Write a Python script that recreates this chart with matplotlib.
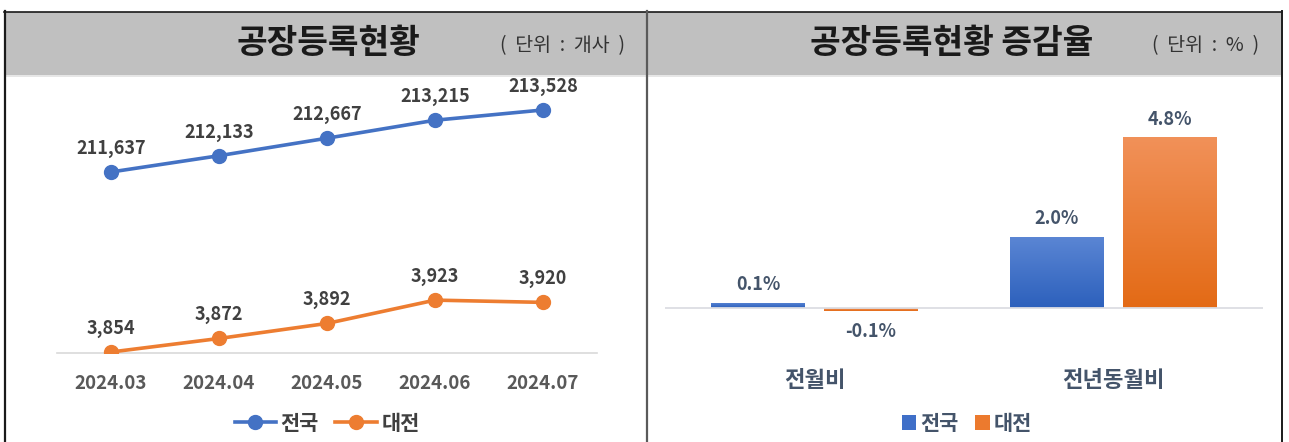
import numpy as np
import matplotlib
matplotlib.use('Agg')
import matplotlib.pyplot as plt
from matplotlib.lines import Line2D
from matplotlib.patches import Patch, Rectangle
from matplotlib.colors import LinearSegmentedColormap

plt.rcParams['font.family'] = ['Noto Sans CJK KR', 'DejaVu Sans']

# data
months = ['2024.03', '2024.04', '2024.05', '2024.06', '2024.07']
national = [211637, 212133, 212667, 213215, 213528]
daejeon = [3854, 3872, 3892, 3923, 3920]

rate_cats = ['전월비', '전년동월비']
rate_national = [0.147, 2.0]
rate_daejeon = [-0.076, 4.8]
series_names = ['전국', '대전']

BLUE = '#4472c4'
ORANGE = '#ed7d31'
W, H = 1289, 442


def box(x0, y0, x1, y1):
    # pixel box (y from top) -> figure fraction
    return [x0 / W, 1 - y1 / H, (x1 - x0) / W, (y1 - y0) / H]


fig = plt.figure(figsize=(W / 100, H / 100), dpi=100)

# frame, header bands and titles
bg = fig.add_axes([0, 0, 1, 1])
bg.set_xlim(0, W)
bg.set_ylim(H, 0)
bg.axis('off')
bg.add_patch(Rectangle((5, 12), 1276, 63, facecolor='#c0c0c0', edgecolor='none'))
bg.plot([5, 1281], [75.5, 75.5], color='#e2e2e2', lw=1.2)
bg.plot([4, 1282], [11.5, 11.5], color='#1a1a1a', lw=1.2)
bg.plot([4.5, 4.5], [11, H], color='#1a1a1a', lw=1.6)
bg.plot([646.5, 646.5], [11, H], color='#5a5a5a', lw=1.6)
bg.plot([1281.5, 1281.5], [11, H], color='#1a1a1a', lw=1.4)

bg.text(328, 44, '공장등록현황', ha='center', va='center', fontsize=24,
        fontweight='bold', color='#1a1a1a')
bg.text(562, 46, '(  단위  :  개사  )', ha='center', va='center', fontsize=14,
        color='#333333')
bg.text(952, 44, '공장등록현황 증감율', ha='center', va='center', fontsize=24,
        fontweight='bold', color='#1a1a1a')
bg.text(1206, 46, '(  단위  :  %  )', ha='center', va='center', fontsize=14,
        color='#333333')

# left: line chart with two scales
x = np.arange(len(months))
axL = fig.add_axes(box(57, 85, 597, 353))
axL.plot(x, daejeon, color=ORANGE, lw=2.6, marker='o', ms=10, zorder=3)
axL.set_ylim(3852.7, 4209)
axL.set_xlim(-0.5, len(months) - 0.5)
for xi, v in zip(x, daejeon):
    axL.annotate(f'{v:,}', (xi, v), xytext=(0, 17), textcoords='offset points',
                 ha='center', va='center', fontsize=13, fontweight='bold',
                 color='#404040')

axT = axL.twinx()
axT.plot(x, national, color=BLUE, lw=2.6, marker='o', ms=10, zorder=3)
axT.set_ylim(206119, 214289)
for xi, v in zip(x, national):
    axT.annotate(f'{v:,}', (xi, v), xytext=(0, 17), textcoords='offset points',
                 ha='center', va='center', fontsize=13, fontweight='bold',
                 color='#404040')

for a in (axL, axT):
    for s in ('top', 'left', 'right'):
        a.spines[s].set_visible(False)
    a.set_yticks([])
axT.spines['bottom'].set_visible(False)
axL.spines['bottom'].set_color('#d9d9d9')
axL.spines['bottom'].set_linewidth(1.2)
axL.set_xticks(x, months)
axL.tick_params(axis='x', length=0, pad=15, labelsize=13.5, labelcolor='#595959')
for t in axL.get_xticklabels():
    t.set_fontweight('bold')

handles = [Line2D([], [], color=BLUE, lw=2.6, marker='o', ms=10),
           Line2D([], [], color=ORANGE, lw=2.6, marker='o', ms=10)]
fig.legend(handles, series_names, loc='center', bbox_to_anchor=(327 / W, 1 - 423 / H),
           ncol=2, frameon=False, prop={'size': 15, 'weight': 'bold'},
           handlelength=2.0, columnspacing=0.8, handletextpad=0.2,
           labelcolor='#404040')

# right: bar chart of rates
axB = fig.add_axes(box(665, 85, 1263, 340))
xr = np.arange(len(rate_cats))
bw, off = 0.314, 0.189
ylo, yhi = -(340 - 308) / 35.6, (308 - 85) / 35.6

cm_blue = LinearSegmentedColormap.from_list('b', ['#2c60bc', '#5b86d4'])
cm_orange = LinearSegmentedColormap.from_list('o', ['#e36a15', '#f19159'])
grad = np.linspace(0, 1, 256).reshape(-1, 1)

for vals, shift, cmap in ((rate_national, -off, cm_blue), (rate_daejeon, off, cm_orange)):
    bars = axB.bar(xr + shift, vals, bw, facecolor='none', edgecolor='none')
    for patch, v in zip(bars, vals):
        x0 = patch.get_x()
        y0, y1 = sorted([patch.get_y(), patch.get_y() + patch.get_height()])
        im = axB.imshow(grad, extent=[x0, x0 + bw, y0, y1], origin='lower',
                        cmap=cmap, aspect='auto', zorder=2)
        im.set_clip_path(patch)
        if v >= 0:
            axB.annotate(f'{v:.1f}%', (patch.get_x() + bw / 2, v), xytext=(0, 13),
                         textcoords='offset points', ha='center', va='center',
                         fontsize=13, fontweight='bold', color='#44546a')
        else:
            axB.annotate(f'{v:.1f}%', (patch.get_x() + bw / 2, v), xytext=(0, -15),
                         textcoords='offset points', ha='center', va='center',
                         fontsize=13, fontweight='bold', color='#44546a')

axB.axhline(0, color='#dcdde3', lw=1.3, zorder=3)
axB.set_xlim(-0.5, len(rate_cats) - 0.5)
axB.set_ylim(ylo, yhi)
for s in axB.spines.values():
    s.set_visible(False)
axB.set_yticks([])
axB.set_xticks(xr, rate_cats)
axB.tick_params(axis='x', length=0, pad=21, labelsize=16, labelcolor='#44546a')
for t in axB.get_xticklabels():
    t.set_fontweight('bold')

handles = [Patch(facecolor='#3f6fc8'), Patch(facecolor='#ec7a2e')]
fig.legend(handles, series_names, loc='center', bbox_to_anchor=(967 / W, 1 - 423 / H),
           ncol=2, frameon=False, prop={'size': 15, 'weight': 'bold'},
           handlelength=0.7, handleheight=0.7, columnspacing=0.8, handletextpad=0.2,
           labelcolor='#44546a')

fig.savefig('out.png', dpi=100)
